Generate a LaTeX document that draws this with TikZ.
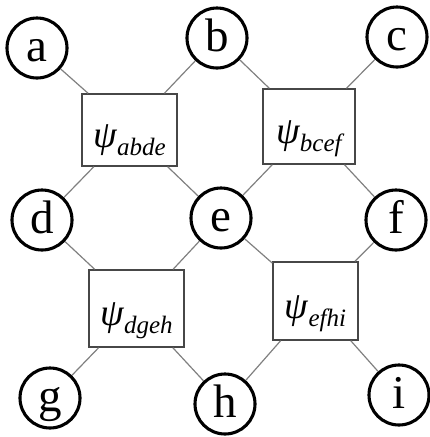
\documentclass[tikz,border=0pt]{standalone}
\usepackage{fontspec}
\setmainfont{Liberation Serif}
\begin{document}
\begin{tikzpicture}[x=1pt,y=-1pt,
  var/.style={circle,draw=black,line width=3.1pt,minimum size=60pt,inner sep=0pt,
    font=\fontsize{47}{47}\selectfont,text height=27pt,text depth=0pt},
  fac/.style={rectangle,draw=black!72,line width=1.4pt,inner sep=0pt,fill=white},
  conn/.style={draw=gray,line width=1.2pt}]
\useasboundingbox (0,0) rectangle (430,437);
\newcommand{\fct}[1]{\smash{\raisebox{-17pt}{\itshape\fontsize{38}{38}\selectfont ψ\raisebox{-8pt}{\fontsize{25}{25}\selectfont #1}}}}
\node[var] (a) at (37,48) {a};
\node[var] (b) at (217,38) {b};
\node[var] (c) at (397,37) {c};
\node[var] (d) at (42,220) {d};
\node[var] (e) at (221,218) {e};
\node[var] (f) at (396,220) {f};
\node[var] (g) at (50,398) {g};
\node[var] (h) at (225,404) {h};
\node[var] (i) at (399,395) {i};
\node[fac,minimum width=95pt,minimum height=72pt] (p1) at (129.5,130) {\fct{abde}};
\node[fac,minimum width=92pt,minimum height=75pt] (p2) at (309,126.5) {\fct{bcef}};
\node[fac,minimum width=95pt,minimum height=77pt] (p3) at (136.5,308.5) {\fct{dgeh}};
\node[fac,minimum width=85pt,minimum height=78pt] (p4) at (315.5,301) {\fct{efhi}};
\draw[conn] (a) -- (p1);
\draw[conn] (b) -- (p1);
\draw[conn] (d) -- (p1);
\draw[conn] (e) -- (p1);
\draw[conn] (b) -- (p2);
\draw[conn] (c) -- (p2);
\draw[conn] (e) -- (p2);
\draw[conn] (f) -- (p2);
\draw[conn] (d) -- (p3);
\draw[conn] (e) -- (p3);
\draw[conn] (g) -- (p3);
\draw[conn] (h) -- (p3);
\draw[conn] (e) -- (p4);
\draw[conn] (f) -- (p4);
\draw[conn] (h) -- (p4);
\draw[conn] (i) -- (p4);
\end{tikzpicture}
\end{document}
